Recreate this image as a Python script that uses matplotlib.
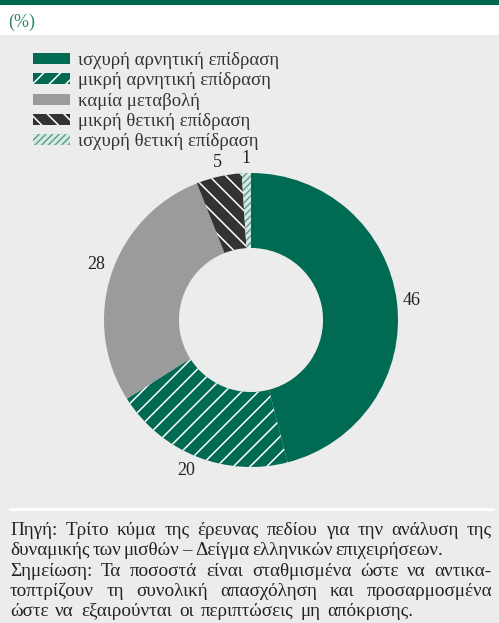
import matplotlib
matplotlib.use("Agg")
import matplotlib.pyplot as plt
import numpy as np
from matplotlib.patches import Rectangle

plt.rcParams['font.family'] = ['Liberation Serif', 'DejaVu Serif']
plt.rcParams['hatch.linewidth'] = 1.1

# data
categories = ['ισχυρή αρνητική επίδραση', 'μικρή αρνητική επίδραση', 'καμία μεταβολή',
              'μικρή θετική επίδραση', 'ισχυρή θετική επίδραση']
values = [46, 20, 28, 5, 1]
colors = ['#006A52', '#006A52', '#9B9B9B', '#333333', '#D8EAE3']
hatches = [None, '//', None, '\\\\', '/////']
hatch_colors = [None, 'white', None, 'white', '#5FA58D']

source_lines = [
    "Πηγή: Τρίτο κύμα της έρευνας πεδίου για την ανάλυση της",
    "δυναμικής των μισθών – Δείγμα ελληνικών επιχειρήσεων.",
    "Σημείωση: Τα ποσοστά είναι σταθμισμένα ώστε να αντικα-",
    "τοπτρίζουν τη συνολική απασχόληση και προσαρμοσμένα",
    "ώστε να εξαιρούνται οι περιπτώσεις μη απόκρισης.",
]
line_ends = [492, 443, 492, 492, 413]

W, H = 499, 623
BG = '#ECECEC'
fig = plt.figure(figsize=(W / 100, H / 100), dpi=100, facecolor=BG)

def fy(y):
    return 1 - y / H

# header
fig.patches.append(Rectangle((0, fy(35)), 1, 35 / H, transform=fig.transFigure,
                             facecolor='white', edgecolor='none', zorder=0))
fig.patches.append(Rectangle((0, fy(5)), 1, 5 / H, transform=fig.transFigure,
                             facecolor='#00684F', edgecolor='none', zorder=1))
fig.text(8 / W, fy(27), '(%)', color='#2F8A70', fontsize=13, va='baseline')

# legend
for i, cat in enumerate(categories):
    top = 53 + 20.3 * i
    r = Rectangle((33 / W, fy(top + 11)), 37 / W, 11 / H, transform=fig.transFigure,
                  facecolor=colors[i], edgecolor=hatch_colors[i] or 'none',
                  linewidth=0, hatch=hatches[i], zorder=2)
    fig.patches.append(r)
    fig.text(78 / W, fy(top + 12), cat, fontsize=13.5, color='#333333', va='baseline')

# donut
R = 147
L = 1.3
S = 2 * L * R
cx, cy = 251, 320
ax = fig.add_axes([(cx - S / 2) / W, fy(cy + S / 2), S / W, S / H])
ax.set_facecolor('none')
wedges, _ = ax.pie(values, colors=colors, startangle=90, counterclock=False,
                   wedgeprops=dict(width=0.51, linewidth=0))
for w, h, hc, v in zip(wedges, hatches, hatch_colors, values):
    if h:
        w.set_hatch(h)
        w.set_edgecolor(hc)
        w.set_linewidth(0)
    a = np.deg2rad((w.theta1 + w.theta2) / 2)
    c, s = np.cos(a), np.sin(a)
    ha = 'left' if c > 0.3 else ('right' if c < -0.3 else 'center')
    va = 'bottom' if s > 0.3 else ('top' if s < -0.3 else 'center')
    ax.text(1.04 * c, 1.04 * s, str(v), ha=ha, va=va, fontsize=13, color='#222222')
ax.set_xlim(-L, L)
ax.set_ylim(-L, L)
ax.set_aspect('equal')
ax.axis('off')

# separator
fig.add_artist(plt.Line2D([10 / W, 493 / W], [fy(509), fy(509)], color='white',
                          linewidth=2, transform=fig.transFigure))

# justified footer
renderer = fig.canvas.get_renderer()
for i, (line, xend) in enumerate(zip(source_lines, line_ends)):
    y = fy(535 + 20.3 * i)
    words = line.split(' ')
    txts = [fig.text(0, y, w, fontsize=13.8, color='#222222', va='baseline') for w in words]
    widths = [t.get_window_extent(renderer).width for t in txts]
    gap = (xend - 10 - sum(widths)) / max(len(words) - 1, 1)
    x = 10
    for t, wd in zip(txts, widths):
        t.set_x(x / W)
        x += wd + gap

fig.savefig('out.png', dpi=100, facecolor=BG)
